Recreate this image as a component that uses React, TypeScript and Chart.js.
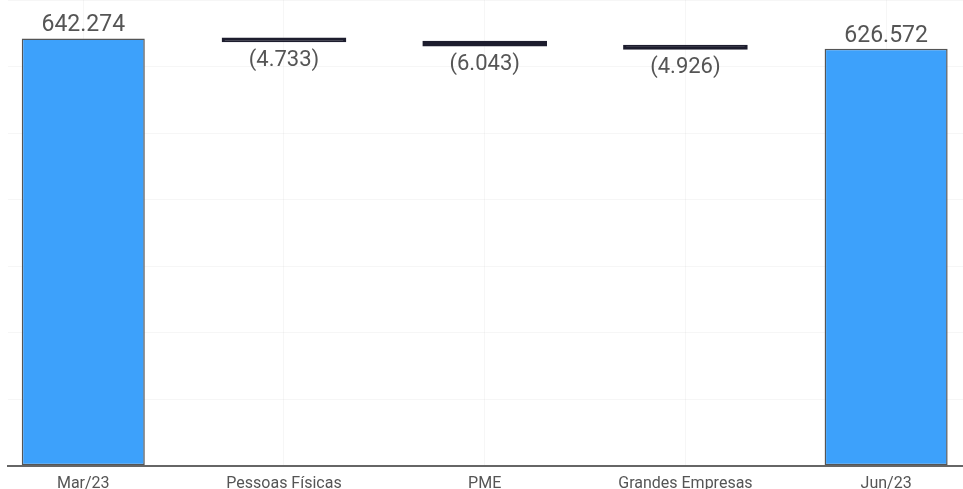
import React, { useEffect, useRef } from "react";
import { Chart, registerables } from "chart.js";

Chart.register(...registerables);

// Waterfall: opening balance, three decreases, closing balance
const categories = ["Mar/23", "Pessoas Físicas", "PME", "Grandes Empresas", "Jun/23"];
const kinds = ["total", "delta", "delta", "delta", "total"];
const changes = [642.274, -4.733, -6.043, -4.926, 626.572];
const yTicks = [0, 100, 200, 300, 400, 500, 600, 700];

const TOTAL_COLOR = "#3DA1FB";
const DELTA_COLOR = "#1D1D2E";
const TEXT_COLOR = "#555555";

function fmt(v: number) {
  return Math.abs(v).toFixed(3);
}

// floating ranges built from the running total
function buildRanges() {
  const out: { x: number; y: [number, number] }[] = [];
  let running = 0;
  changes.forEach((c, i) => {
    if (kinds[i] === "total") {
      out.push({ x: i, y: [0, c] });
      running = c;
    } else {
      const next = running + c;
      out.push({ x: i, y: [next, running] });
      running = next;
    }
  });
  return out;
}

const valueLabels = {
  id: "valueLabels",
  afterDatasetsDraw(chart: any) {
    const ctx = chart.ctx;
    const meta = chart.getDatasetMeta(0);
    ctx.save();
    ctx.fillStyle = TEXT_COLOR;
    ctx.textAlign = "center";
    ctx.textBaseline = "alphabetic";
    meta.data.forEach((bar: any, i: number) => {
      const p = bar.getProps(["x", "y", "base"], true);
      const top = Math.min(p.y, p.base);
      const bottom = Math.max(p.y, p.base);
      if (kinds[i] === "total") {
        ctx.font = "23px Roboto";
        ctx.fillText(fmt(changes[i]), p.x, top - 7);
      } else {
        ctx.font = "22px Roboto";
        ctx.fillText("(" + fmt(changes[i]) + ")", p.x, bottom + 24);
      }
    });
    ctx.restore();
  },
};

export default function App() {
  const ref = useRef<HTMLCanvasElement | null>(null);

  useEffect(() => {
    if (!ref.current) return;
    const chart = new Chart(ref.current, {
      type: "bar",
      data: {
        datasets: [
          {
            data: buildRanges() as any,
            backgroundColor: kinds.map((k) => (k === "total" ? TOTAL_COLOR : DELTA_COLOR)),
            borderColor: kinds.map((k) => (k === "total" ? "#555555" : DELTA_COLOR)),
            borderWidth: 1.5,
            borderSkipped: false,
            inflateAmount: (c: any) => (kinds[c.dataIndex] === "delta" ? 0.8 : 0),
            barPercentage: 0.613,
            categoryPercentage: 1,
          } as any,
        ],
      },
      options: {
        animation: false,
        responsive: true,
        maintainAspectRatio: false,
        layout: { padding: { left: 8, right: 0, top: 0, bottom: 0 } },
        plugins: { legend: { display: false }, tooltip: { enabled: false } },
        scales: {
          x: {
            type: "linear",
            min: -0.375,
            max: 4.383,
            offset: false,
            afterBuildTicks: (axis: any) => {
              axis.ticks = categories.map((_, i) => ({ value: i }));
            },
            grid: { color: "rgba(0,0,0,0.035)", drawTicks: false, offset: false },
            border: { color: "#666666", width: 2 },
            ticks: {
              padding: 9,
              color: TEXT_COLOR,
              font: { family: "Roboto", size: 16 },
              maxRotation: 0,
              autoSkip: false,
              callback: (v: any) => categories[v as number] ?? "",
            },
          },
          y: {
            min: 0,
            max: 700,
            afterBuildTicks: (axis: any) => {
              axis.ticks = yTicks.map((v) => ({ value: v }));
            },
            grid: { color: "rgba(0,0,0,0.035)", drawTicks: false },
            border: { display: false },
            ticks: { display: false },
          },
        },
      },
      plugins: [valueLabels],
    });
    return () => chart.destroy();
  }, []);

  return (
    <div style={{ position: "absolute", left: 0, top: 0, width: 963, height: 489, overflow: "hidden", background: "#fff" }}>
      <div style={{ position: "relative", width: 963, height: 503 }}>
        <canvas ref={ref} />
      </div>
    </div>
  );
}
